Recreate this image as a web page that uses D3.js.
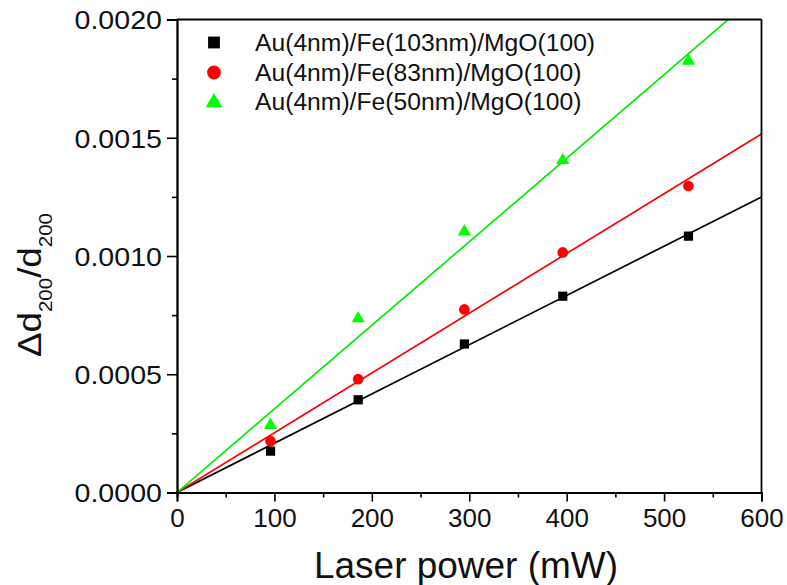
<!DOCTYPE html>
<html>
<head>
<meta charset="utf-8">
<script src="https://cdn.jsdelivr.net/npm/d3@7"></script>
<style>
  html, body { margin: 0; padding: 0; background: #fff; }
  svg { display: block; font-family: "Liberation Sans", Arial, sans-serif; }
</style>
</head>
<body>
<svg id="chart" width="787" height="585"></svg>
<script>
// Laser power (mW) for each measurement
const laserPower = [96, 186, 295, 396, 525];

// Relative lattice change Δd200/d200 for each film
const strainFe103 = [0.000175, 0.000392, 0.000628, 0.000830, 0.001084];
const strainFe83  = [0.000217, 0.000479, 0.000774, 0.001015, 0.001296];
const strainFe50  = [0.000289, 0.000740, 0.001107, 0.001409, 0.001829];

// Slopes of the linear fits through the origin (per mW)
const fitSlopes = [2.083e-6, 2.527e-6, 3.534e-6];

const seriesNames = [
  "Au(4nm)/Fe(103nm)/MgO(100)",
  "Au(4nm)/Fe(83nm)/MgO(100)",
  "Au(4nm)/Fe(50nm)/MgO(100)"
];
const lineColors = ["#000000", "#ff0000", "#00ee00"];
const markerColors = ["#000000", "#ff0000", "#00ff00"];
const seriesSymbols = [d3.symbolSquare, d3.symbolCircle, d3.symbolTriangle];

const xTicks = [0, 100, 200, 300, 400, 500, 600];
const yTicks = [0, 0.0005, 0.0010, 0.0015, 0.0020];

const series = [strainFe103, strainFe83, strainFe50].map((vals, i) => ({
  name: seriesNames[i],
  line: lineColors[i],
  fill: markerColors[i],
  symbol: seriesSymbols[i],
  slope: fitSlopes[i],
  points: vals.map((v, j) => ({ x: laserPower[j], y: v }))
}));

const svg = d3.select("#chart");
const plotLeft = 177, plotRight = 761.5, plotTop = 19.5, plotBottom = 492.5;

const x = d3.scaleLinear().domain([0, 600]).range([plotLeft, plotRight]);
const y = d3.scaleLinear().domain([0, 0.002]).range([plotBottom, plotTop]);

// stretch a text element along its own direction by a factor
function stretch(sel, f) {
  sel.each(function () {
    const w = this.getComputedTextLength();
    d3.select(this).attr("textLength", w * f).attr("lengthAdjust", "spacingAndGlyphs");
  });
}

function symbolSize(sym, big) {
  if (sym === d3.symbolSquare) return big ? 140 : 85;
  if (sym === d3.symbolCircle) return big ? 150 : 90;
  return big ? 120 : 75;
}

svg.append("clipPath").attr("id", "plotClip")
  .append("rect").attr("x", plotLeft).attr("y", plotTop)
  .attr("width", plotRight - plotLeft).attr("height", plotBottom - plotTop);

// fit lines
const plot = svg.append("g").attr("clip-path", "url(#plotClip)");
series.forEach(s => {
  plot.append("line")
    .attr("x1", x(0)).attr("y1", y(0))
    .attr("x2", x(600)).attr("y2", y(s.slope * 600))
    .attr("stroke", s.line).attr("stroke-width", 1.7);
});

// data markers
series.forEach(s => {
  svg.append("g").selectAll("path").data(s.points).join("path")
    .attr("d", d3.symbol().type(s.symbol).size(symbolSize(s.symbol, false)))
    .attr("transform", d => `translate(${x(d.x)},${y(d.y) + (s.symbol === d3.symbolTriangle ? 1 : 0)})`)
    .attr("fill", s.fill);
});

// axes
const xAxis = d3.axisBottom(x).tickValues(xTicks).tickSize(9).tickPadding(7).tickFormat(d3.format("d"));
const yAxis = d3.axisLeft(y).tickValues(yTicks).tickSize(10).tickPadding(5).tickFormat(d3.format(".4f"));
const xMinor = d3.axisBottom(x).tickValues(d3.range(50, 600, 100)).tickSize(5).tickFormat("");
const yMinor = d3.axisLeft(y).tickValues(d3.range(0.00025, 0.002, 0.0005)).tickSize(5).tickFormat("");

function styleAxis(g) {
  g.select(".domain").attr("stroke", "#000").attr("stroke-width", 1.8);
  g.selectAll(".tick line").attr("stroke", "#000").attr("stroke-width", 1.6);
  g.selectAll("text").attr("fill", "#111");
}

svg.append("g").attr("transform", `translate(0,${plotBottom})`).call(xMinor).call(styleAxis);
svg.append("g").attr("transform", `translate(${plotLeft},0)`).call(yMinor).call(styleAxis);

const gx = svg.append("g").attr("transform", `translate(0,${plotBottom})`).call(xAxis).call(styleAxis);
gx.selectAll("text").attr("font-size", 26).attr("font-family", "Liberation Sans, Arial, sans-serif");

const gy = svg.append("g").attr("transform", `translate(${plotLeft},0)`).call(yAxis).call(styleAxis);
gy.selectAll("text").attr("font-size", 26).attr("font-family", "Liberation Sans, Arial, sans-serif")
  .attr("dy", "0.36em").call(stretch, 1.1);

// frame: top and right edges
svg.append("line").attr("x1", plotLeft).attr("x2", plotRight).attr("y1", plotTop).attr("y2", plotTop)
  .attr("stroke", "#000").attr("stroke-width", 1.8);
svg.append("line").attr("x1", plotRight).attr("x2", plotRight).attr("y1", plotTop).attr("y2", plotBottom)
  .attr("stroke", "#000").attr("stroke-width", 1.8);

// axis titles
svg.append("text")
  .attr("x", 466).attr("y", 578)
  .attr("text-anchor", "middle")
  .attr("font-size", 36)
  .attr("fill", "#111")
  .text("Laser power (mW)")
  .attr("textLength", 304).attr("lengthAdjust", "spacingAndGlyphs");

const yTitle = svg.append("text")
  .attr("transform", "translate(41,285) rotate(-90)")
  .attr("text-anchor", "middle")
  .attr("font-size", 34)
  .attr("fill", "#111");
yTitle.append("tspan").text("Δd");
yTitle.append("tspan").attr("font-size", 19).attr("dy", 11).text("200");
yTitle.append("tspan").attr("dy", -11).text("/d");
yTitle.append("tspan").attr("font-size", 19).attr("dy", 11).text("200");
yTitle.call(stretch, 1.08);

// legend
const legend = svg.append("g");
const rowY = [42.5, 72.5, 101.5];
series.forEach((s, i) => {
  legend.append("path")
    .attr("d", d3.symbol().type(s.symbol).size(symbolSize(s.symbol, true)))
    .attr("transform", `translate(214,${rowY[i] + (s.symbol === d3.symbolTriangle ? 1 : 0)})`)
    .attr("fill", s.fill);
  legend.append("text")
    .attr("x", 255).attr("y", rowY[i] + 8.5)
    .attr("font-size", 23.5)
    .attr("fill", "#111")
    .text(s.name)
    .call(stretch, 1.05);
});
</script>
</body>
</html>
